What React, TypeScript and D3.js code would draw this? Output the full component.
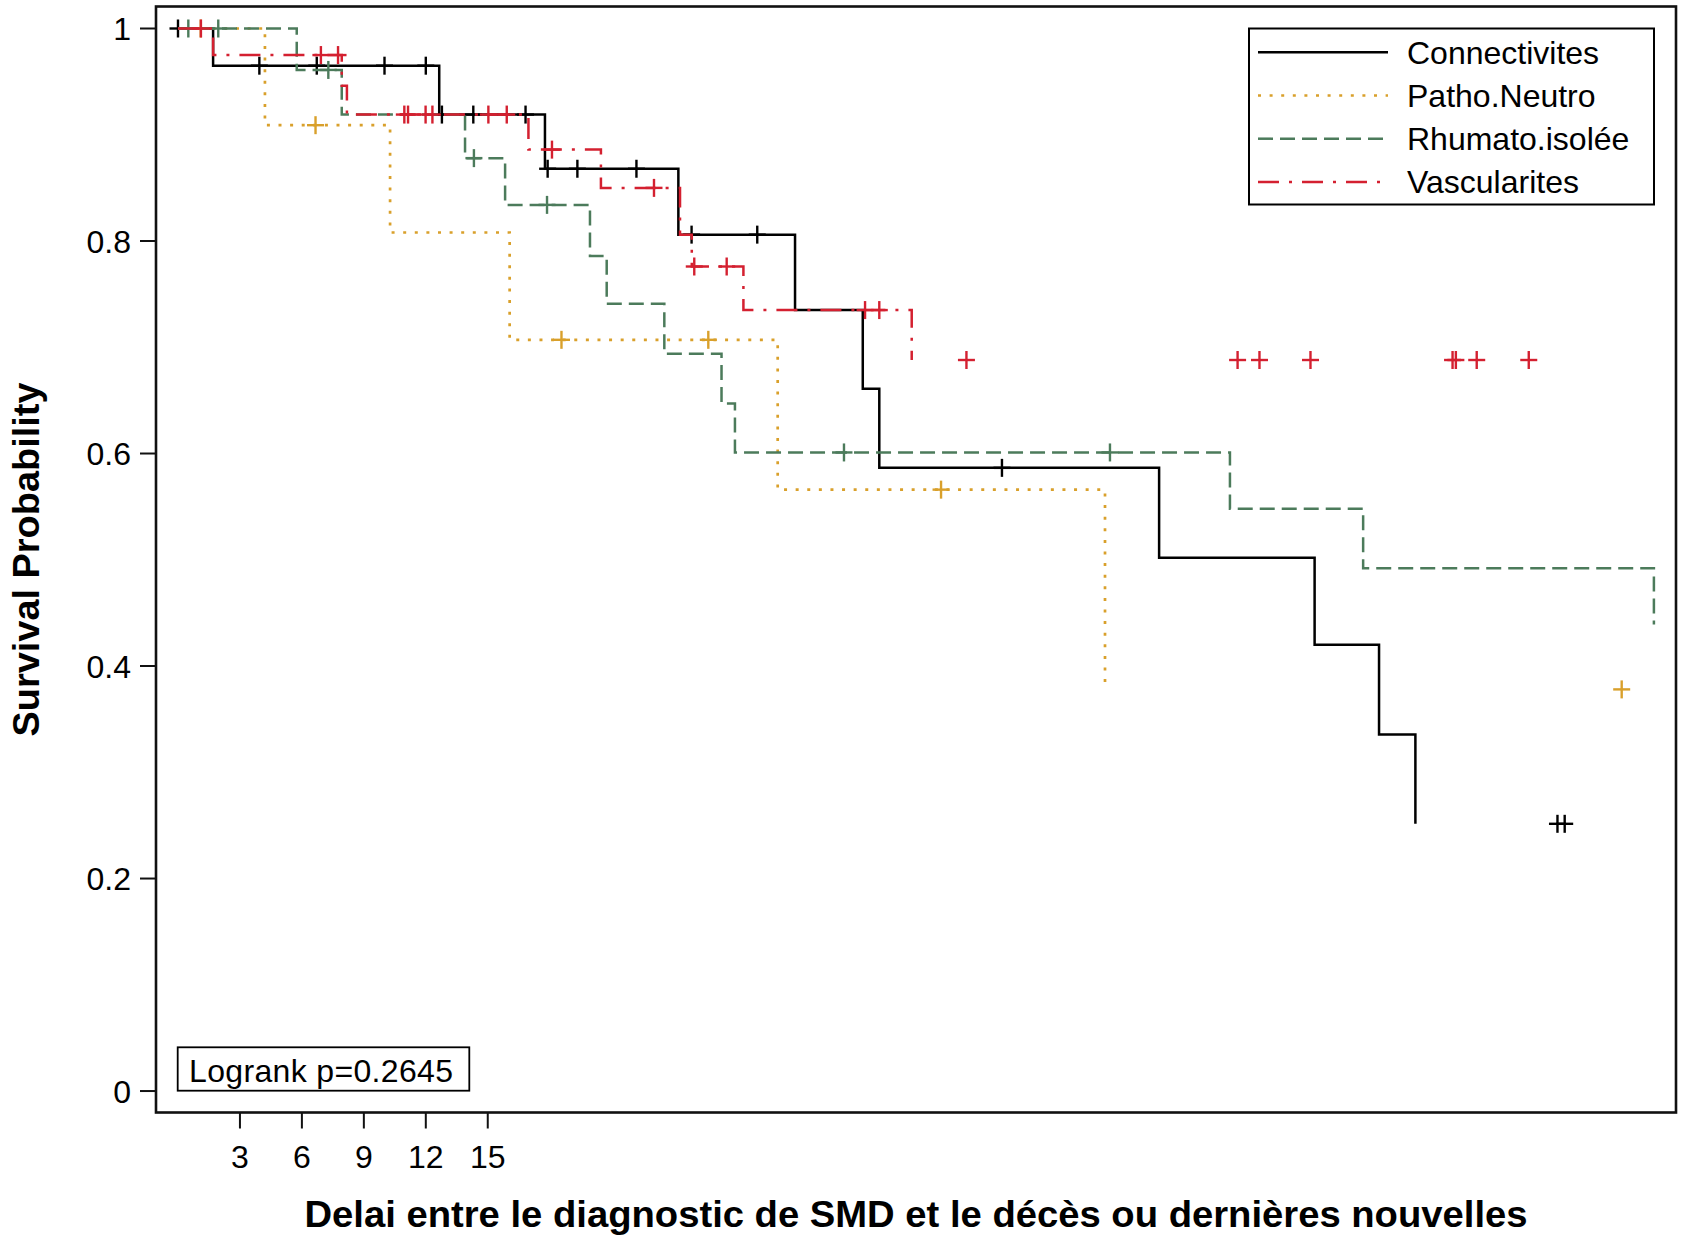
import * as React from "react";
import * as d3 from "d3";

// groups (strata) of the Kaplan-Meier curve
const groups = ["Connectivites", "Patho.Neutro", "Rhumato.isolée", "Vascularites"];

// event times (months) and survival just after each event, plus censored times
const connEvents = [1.7, 12.65, 17.77, 24.23, 29.88, 33.16, 33.96, 47.51, 55.04, 58.16, 59.92];
const connSurvival = [0.965, 0.919, 0.868, 0.806, 0.735, 0.661, 0.5865, 0.502, 0.42, 0.3355, 0.2515];
const connCensored = [0, 3.94, 6.72, 10.0, 12.0, 12.78, 14.3, 16.83, 17.9, 19.34, 22.2, 24.87, 28.05, 39.9, 66.8, 67.15];

const neutroEvents = [4.21, 10.27, 16.06, 29.04, 44.89];
const neutroSurvival = [0.909, 0.808, 0.707, 0.566, 0.378];
const neutroCensored = [1.1, 6.66, 18.57, 25.68, 36.95, 69.91];

const rhumatoEvents = [5.75, 7.93, 13.9, 15.84, 19.95, 20.76, 23.55, 26.32, 26.97, 50.94, 57.39, 71.47];
const rhumatoSurvival = [0.961, 0.919, 0.878, 0.834, 0.786, 0.741, 0.694, 0.647, 0.601, 0.548, 0.492, 0.439];
const rhumatoCensored = [0.5, 1.95, 7.28, 14.33, 17.87, 32.25, 45.13];

const vascEvents = [1.7, 7.93, 8.18, 16.97, 20.48, 24.31, 24.88, 27.38, 35.53];
const vascSurvival = [0.975, 0.946, 0.919, 0.886, 0.85, 0.806, 0.776, 0.735, 0.688];
const vascCensored = [1.11, 6.92, 7.75, 10.96, 11.14, 11.99, 12.32, 15.03, 15.92, 18.11, 23.05, 25.0, 26.57,
  33.27, 33.96, 38.18, 51.31, 52.37, 54.84, 61.72, 61.88, 62.89, 65.41];

const yTicks = [0, 0.2, 0.4, 0.6, 0.8, 1];
const yTickLabels = ["0", "0.2", "0.4", "0.6", "0.8", "1"];
const xTicks = [3, 6, 9, 12, 15];
const xTickLabels = ["3", "6", "9", "12", "15"];

const xTitle = "Delai entre le diagnostic de SMD et le décès ou dernières nouvelles";
const yTitle = "Survival Probability";
const logrankText = "Logrank p=0.2645";

const lineStyles = [
  { color: "#000000", dash: undefined, width: 2.5 },
  { color: "#D9A02B", dash: "3 8.6", width: 2.7 },
  { color: "#4C7B5B", dash: "15 7", width: 2.5 },
  { color: "#D42030", dash: "21 10 3 10", width: 2.5 },
];

const font = "'Liberation Sans', Arial, sans-serif";

export default function App() {
  const W = 1685;
  const H = 1236;
  const frame = { left: 156, right: 1676, top: 6.5, bottom: 1112.5 };

  const x = d3.scaleLinear().domain([-1.065, 72.54]).range([frame.left, frame.right]);
  const y = d3.scaleLinear().domain([-0.0202, 1.0207]).range([frame.bottom, frame.top]);

  const series = [
    { name: groups[0], events: connEvents, surv: connSurvival, censored: connCensored },
    { name: groups[1], events: neutroEvents, surv: neutroSurvival, censored: neutroCensored },
    { name: groups[2], events: rhumatoEvents, surv: rhumatoSurvival, censored: rhumatoCensored },
    { name: groups[3], events: vascEvents, surv: vascSurvival, censored: vascCensored },
  ];

  const line = d3
    .line<[number, number]>()
    .x((d) => x(d[0]))
    .y((d) => y(d[1]))
    .curve(d3.curveStepAfter);

  const survAt = (s: any, t: number) => {
    let v = 1;
    s.events.forEach((e: number, i: number) => {
      if (e <= t) v = s.surv[i];
    });
    return v;
  };

  const cw = 8.5; // censor mark half width
  const ch = 9; // censor mark half height

  return (
    <svg
      width={W}
      height={H}
      style={{ position: "absolute", left: 0, top: 0, display: "block", background: "#fff" }}
      fontFamily={font}
    >
      <rect x={0} y={0} width={W} height={H} fill="#fff" />

      {series.map((s, i) => {
        const st = lineStyles[i];
        const pts: [number, number][] = [[0, 1], ...s.events.map((t, j) => [t, s.surv[j]] as [number, number])];
        return (
          <g key={s.name}>
            <path
              d={line(pts) || ""}
              fill="none"
              stroke={st.color}
              strokeWidth={st.width}
              strokeDasharray={st.dash}
            />
            {s.censored.map((t, j) => {
              const cx = x(t);
              const cy = y(survAt(s, t));
              return (
                <g key={j} stroke={st.color} strokeWidth={2.4}>
                  <line x1={cx - cw} x2={cx + cw} y1={cy} y2={cy} />
                  <line x1={cx} x2={cx} y1={cy - ch} y2={cy + ch} />
                </g>
              );
            })}
          </g>
        );
      })}

      {/* frame */}
      <rect
        x={frame.left}
        y={frame.top}
        width={frame.right - frame.left}
        height={frame.bottom - frame.top}
        fill="none"
        stroke="#111"
        strokeWidth={2.6}
      />

      {/* y axis */}
      {yTicks.map((v, i) => (
        <g key={v}>
          <line x1={frame.left - 16} x2={frame.left} y1={y(v)} y2={y(v)} stroke="#111" strokeWidth={2} />
          <text x={131} y={y(v)} dy="0.36em" textAnchor="end" fontSize={32} fill="#000">
            {yTickLabels[i]}
          </text>
        </g>
      ))}

      {/* x axis */}
      {xTicks.map((v, i) => (
        <g key={v}>
          <line x1={x(v)} x2={x(v)} y1={frame.bottom} y2={frame.bottom + 16} stroke="#111" strokeWidth={2} />
          <text x={x(v)} y={1168} textAnchor="middle" fontSize={32} fill="#000">
            {xTickLabels[i]}
          </text>
        </g>
      ))}

      <text
        x={(frame.left + frame.right) / 2}
        y={1227}
        textAnchor="middle"
        fontSize={36}
        fontWeight="bold"
        textLength={1223}
        lengthAdjust="spacingAndGlyphs"
      >
        {xTitle}
      </text>
      <text
        transform={`translate(38.5,${(frame.top + frame.bottom) / 2}) rotate(-90)`}
        textAnchor="middle"
        fontSize={36}
        fontWeight="bold"
        textLength={354}
        lengthAdjust="spacingAndGlyphs"
      >
        {yTitle}
      </text>

      {/* legend */}
      <rect x={1249} y={28.5} width={405} height={176} fill="#fff" stroke="#000" strokeWidth={2} />
      {series.map((s, i) => {
        const st = lineStyles[i];
        const ry = 52.3 + i * 43.2;
        return (
          <g key={s.name}>
            <line
              x1={1258}
              x2={1388}
              y1={ry}
              y2={ry}
              stroke={st.color}
              strokeWidth={st.width}
              strokeDasharray={st.dash}
            />
            <text x={1407} y={ry} dy="0.36em" fontSize={32} fill="#000">
              {s.name}
            </text>
          </g>
        );
      })}

      {/* logrank box */}
      <rect x={177.7} y={1047.3} width={291.6} height={43.4} fill="#fff" stroke="#000" strokeWidth={1.8} />
      <text x={189} y={1081.5} fontSize={32} fill="#000" textLength={264} lengthAdjust="spacing">
        {logrankText}
      </text>
    </svg>
  );
}
